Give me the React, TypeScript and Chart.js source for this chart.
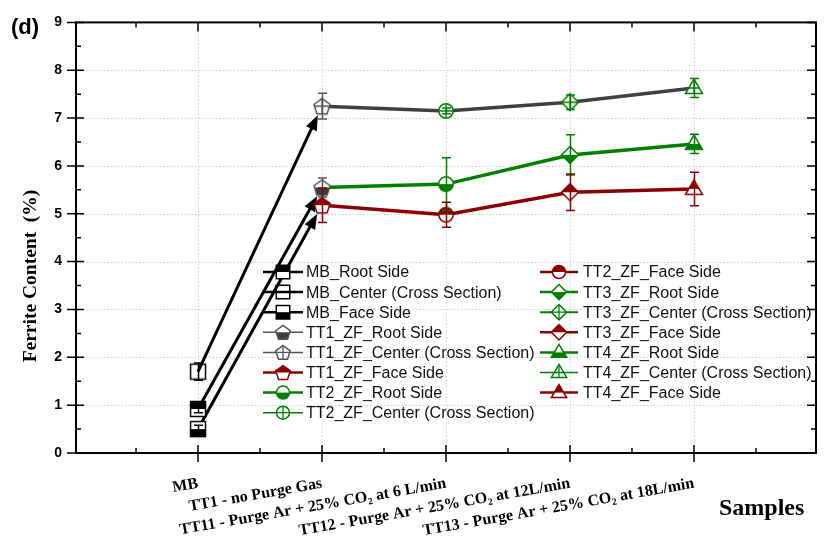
import React, { useEffect, useRef } from 'react';
import { Chart, registerables } from 'chart.js';

Chart.register(...registerables);

// Samples along the x axis, placed at positions 1..5
const sampleLabels = [
  'MB',
  'TT1 - no Purge Gas',
  'TT11 - Purge Ar + 25% CO₂ at 6 L/min',
  'TT12 - Purge Ar + 25% CO₂ at 12L/min',
  'TT13 - Purge Ar + 25% CO₂ at 18L/min',
];
const samplePositions = [1, 2, 3, 4, 5];
const yTickValues = [0, 1, 2, 3, 4, 5, 6, 7, 8, 9];

// Ferrite content (%) per location, in the order Root Side, Center, Face Side
const mbValues = [0.92, 1.7, 0.5];
const mbErrors = [0.08, 0.18, 0.08];
const tt1Values = [5.55, 7.25, 5.18];
const tt1Errors = [0.2, 0.27, 0.36];
const tt2Values = [5.62, 7.15, 4.98];
const tt2Errors = [0.55, 0.06, 0.26];
const tt3Values = [6.23, 7.33, 5.45];
const tt3Errors = [0.42, 0.15, 0.38];
const tt4Values = [6.46, 7.63, 5.52];
const tt4Errors = [0.2, 0.2, 0.35];

const groupPrefixes = ['MB_', 'TT1_ZF_', 'TT2_ZF_', 'TT3_ZF_', 'TT4_ZF_'];
const sideNames = ['Root Side', 'Center (Cross Section)', 'Face Side'];

const groupValues = [mbValues, tt1Values, tt2Values, tt3Values, tt4Values];
const groupErrors = [mbErrors, tt1Errors, tt2Errors, tt3Errors, tt4Errors];

// ---- styling ----
const DARK_RED = '#8b0000';
const GREEN = '#008000';
const GRAY = '#555555';
const SERIF = '"Liberation Serif", "Times New Roman", serif';
const SANS = '"Liberation Sans", Arial, sans-serif';

type Shape = 'square' | 'pentagon' | 'circle' | 'diamond' | 'triangle';
type FillMode = 'top' | 'bottom' | 'cross' | 'none';

const groupShapes: Shape[] = ['square', 'pentagon', 'circle', 'diamond', 'triangle'];
const groupFills: FillMode[][] = [
  ['top', 'none', 'bottom'],
  ['bottom', 'cross', 'top'],
  ['bottom', 'cross', 'top'],
  ['bottom', 'cross', 'top'],
  ['bottom', 'cross', 'top'],
];
const groupStrokes = [
  ['#000', '#000', '#000'],
  [GRAY, GRAY, DARK_RED],
  [GREEN, GREEN, DARK_RED],
  [GREEN, GREEN, DARK_RED],
  [GREEN, GREEN, DARK_RED],
];
const groupFillColors = [
  ['#000', '#000', '#000'],
  ['#3c3c3c', GRAY, DARK_RED],
  [GREEN, GREEN, DARK_RED],
  [GREEN, GREEN, DARK_RED],
  [GREEN, GREEN, DARK_RED],
];
const legendLineWidths = [
  [2.5, 2.5, 2.5],
  [1.5, 1.5, 2.5],
  [2.5, 1.5, 2.5],
  [2.5, 2, 2.5],
  [2.5, 1.5, 2.5],
];
const trendColors = ['#008000', '#404040', DARK_RED];
const MARKER_R = 8.5;

function shapePath(ctx: CanvasRenderingContext2D, shape: Shape, cx: number, cy: number, r: number) {
  ctx.beginPath();
  if (shape === 'circle') {
    ctx.arc(cx, cy, r * 0.85, 0, Math.PI * 2);
  } else if (shape === 'square') {
    const h = r * 0.88;
    ctx.rect(cx - h, cy - h, 2 * h, 2 * h);
  } else if (shape === 'diamond') {
    ctx.moveTo(cx, cy - r);
    ctx.lineTo(cx + r, cy);
    ctx.lineTo(cx, cy + r);
    ctx.lineTo(cx - r, cy);
  } else if (shape === 'triangle') {
    ctx.moveTo(cx, cy - r * 1.05);
    ctx.lineTo(cx + r, cy + r * 0.65);
    ctx.lineTo(cx - r, cy + r * 0.65);
  } else {
    const oy = cy + r * 0.1;
    for (let k = 0; k < 5; k++) {
      const a = (-90 + 72 * k) * (Math.PI / 180);
      const px = cx + r * Math.cos(a);
      const py = oy + r * Math.sin(a);
      if (k === 0) ctx.moveTo(px, py);
      else ctx.lineTo(px, py);
    }
  }
  ctx.closePath();
}

function drawMarker(
  ctx: CanvasRenderingContext2D,
  shape: Shape,
  fill: FillMode,
  stroke: string,
  fillColor: string,
  cx: number,
  cy: number,
  r: number,
) {
  ctx.save();
  ctx.setLineDash([]);
  if (fill !== 'none') {
    shapePath(ctx, shape, cx, cy, r);
    ctx.fillStyle = '#fff';
    ctx.fill();
  }
  if (fill === 'top' || fill === 'bottom') {
    ctx.save();
    shapePath(ctx, shape, cx, cy, r);
    ctx.clip();
    ctx.fillStyle = fillColor;
    if (fill === 'top') ctx.fillRect(cx - r - 2, cy - r - 2, 2 * r + 4, r + 2);
    else ctx.fillRect(cx - r - 2, cy, 2 * r + 4, r + 2);
    ctx.restore();
  }
  if (fill === 'cross') {
    ctx.save();
    shapePath(ctx, shape, cx, cy, r);
    ctx.clip();
    ctx.beginPath();
    ctx.moveTo(cx, cy - r - 2);
    ctx.lineTo(cx, cy + r + 2);
    ctx.moveTo(cx - r - 2, cy);
    ctx.lineTo(cx + r + 2, cy);
    ctx.strokeStyle = stroke;
    ctx.lineWidth = 1.3;
    ctx.stroke();
    ctx.restore();
  }
  shapePath(ctx, shape, cx, cy, r);
  ctx.strokeStyle = stroke;
  ctx.lineWidth = 1.5;
  ctx.stroke();
  ctx.restore();
}

function markerImage(g: number, s: number): HTMLCanvasElement {
  const c = document.createElement('canvas');
  c.width = 24;
  c.height = 24;
  const ctx = c.getContext('2d')!;
  drawMarker(ctx, groupShapes[g], groupFills[g][s], groupStrokes[g][s], groupFillColors[g][s], 12, 12, MARKER_R);
  return c;
}

const decorPlugin = {
  id: 'ferriteDecor',
  beforeDatasetsDraw(chart: any) {
    const { ctx, chartArea: a } = chart;
    const xs = chart.scales.x;
    const ys = chart.scales.y;
    ctx.save();
    // dotted grid
    ctx.strokeStyle = '#cfcfcf';
    ctx.lineWidth = 1;
    ctx.setLineDash([1.5, 2]);
    yTickValues.slice(1, -1).forEach((v) => {
      const y = Math.round(ys.getPixelForValue(v)) + 0.5;
      ctx.beginPath();
      ctx.moveTo(a.left, y);
      ctx.lineTo(a.right, y);
      ctx.stroke();
    });
    samplePositions.forEach((v) => {
      const x = Math.round(xs.getPixelForValue(v)) + 0.5;
      ctx.beginPath();
      ctx.moveTo(x, a.top);
      ctx.lineTo(x, a.bottom);
      ctx.stroke();
    });
    ctx.setLineDash([]);

    // arrows from the base metal to the first treated sample
    ctx.strokeStyle = '#000';
    ctx.fillStyle = '#000';
    ctx.lineWidth = 3;
    for (let s = 0; s < 3; s++) {
      const x0 = xs.getPixelForValue(samplePositions[0]);
      const y0 = ys.getPixelForValue(mbValues[s]);
      const x1 = xs.getPixelForValue(samplePositions[1]);
      const y1 = ys.getPixelForValue(tt1Values[s]);
      const len = Math.hypot(x1 - x0, y1 - y0);
      const ux = (x1 - x0) / len;
      const uy = (y1 - y0) / len;
      const gap = 10;
      const head = 15;
      const half = 6;
      const tx = x1 - ux * gap;
      const ty = y1 - uy * gap;
      ctx.beginPath();
      ctx.moveTo(x0, y0);
      ctx.lineTo(tx - ux * head * 0.7, ty - uy * head * 0.7);
      ctx.stroke();
      const bx = tx - ux * head;
      const by = ty - uy * head;
      ctx.beginPath();
      ctx.moveTo(tx, ty);
      ctx.lineTo(bx - uy * half, by + ux * half);
      ctx.lineTo(bx + uy * half, by - ux * half);
      ctx.closePath();
      ctx.fill();
    }
    ctx.restore();
  },
  afterDatasetsDraw(chart: any) {
    const { ctx, chartArea: a } = chart;
    const xs = chart.scales.x;
    const ys = chart.scales.y;
    ctx.save();

    // error bars
    ctx.lineWidth = 1.5;
    for (let g = 0; g < 5; g++) {
      for (let s = 0; s < 3; s++) {
        const v = groupValues[g][s];
        const e = groupErrors[g][s];
        const x = Math.round(xs.getPixelForValue(samplePositions[g])) + 0.5;
        const yt = ys.getPixelForValue(v + e);
        const yb = ys.getPixelForValue(v - e);
        ctx.strokeStyle = groupStrokes[g][s];
        ctx.beginPath();
        ctx.moveTo(x, yt);
        ctx.lineTo(x, yb);
        ctx.moveTo(x - 4.5, yt);
        ctx.lineTo(x + 4.5, yt);
        ctx.moveTo(x - 4.5, yb);
        ctx.lineTo(x + 4.5, yb);
        ctx.stroke();
      }
    }

    // frame and tick marks
    ctx.strokeStyle = '#000';
    ctx.lineWidth = 2;
    ctx.strokeRect(a.left, a.top, a.right - a.left, a.bottom - a.top);
    ctx.lineWidth = 1.5;
    ctx.beginPath();
    yTickValues.forEach((v) => {
      const y = ys.getPixelForValue(v);
      ctx.moveTo(a.left - 9, y);
      ctx.lineTo(a.left + 8, y);
      ctx.moveTo(a.right, y);
      ctx.lineTo(a.right - 9, y);
      if (v < 9) {
        const ym = ys.getPixelForValue(v + 0.5);
        ctx.moveTo(a.left, ym);
        ctx.lineTo(a.left + 5, ym);
        ctx.moveTo(a.right, ym);
        ctx.lineTo(a.right - 5, ym);
      }
    });
    const xMinor = [0.5, ...samplePositions.map((p) => p + 0.5)];
    samplePositions.forEach((v) => {
      const x = xs.getPixelForValue(v);
      ctx.moveTo(x, a.bottom + 9);
      ctx.lineTo(x, a.bottom - 8);
      ctx.moveTo(x, a.top);
      ctx.lineTo(x, a.top + 9);
    });
    xMinor.forEach((v) => {
      const x = xs.getPixelForValue(v);
      ctx.moveTo(x, a.bottom);
      ctx.lineTo(x, a.bottom - 5);
      ctx.moveTo(x, a.top);
      ctx.lineTo(x, a.top + 5);
    });
    ctx.stroke();

    // legend, two columns
    const entries: { g: number; s: number }[] = [];
    for (let g = 0; g < 5; g++) for (let s = 0; s < 3; s++) entries.push({ g, s });
    const cols = [
      { x0: 263, x1: 303, tx: 306, items: entries.slice(0, 8) },
      { x0: 540, x1: 578, tx: 583, items: entries.slice(8) },
    ];
    ctx.font = `16px ${SANS}`;
    ctx.textBaseline = 'middle';
    ctx.textAlign = 'left';
    cols.forEach((col) => {
      col.items.forEach((it, i) => {
        const y = 272 + i * 20.1;
        ctx.strokeStyle = groupStrokes[it.g][it.s];
        ctx.lineWidth = legendLineWidths[it.g][it.s];
        ctx.beginPath();
        ctx.moveTo(col.x0, y);
        ctx.lineTo(col.x1, y);
        ctx.stroke();
        drawMarker(
          ctx,
          groupShapes[it.g],
          groupFills[it.g][it.s],
          groupStrokes[it.g][it.s],
          groupFillColors[it.g][it.s],
          (col.x0 + col.x1) / 2,
          y,
          MARKER_R * 0.9,
        );
        ctx.fillStyle = '#111';
        ctx.fillText(groupPrefixes[it.g] + sideNames[it.s], col.tx, y + 1);
      });
    });

    // titles
    ctx.fillStyle = '#000';
    ctx.font = `bold 22px ${SANS}`;
    ctx.textBaseline = 'alphabetic';
    ctx.fillText('(d)', 11, 34);
    ctx.font = `bold 24px ${SERIF}`;
    ctx.fillText('Samples', 719, 515);
    ctx.save();
    ctx.translate(31, 276);
    ctx.rotate(-Math.PI / 2);
    ctx.font = `bold 19.5px ${SERIF}`;
    ctx.textAlign = 'center';
    ctx.textBaseline = 'middle';
    ctx.fillText('Ferrite Content  (%)', 0, 0);
    ctx.restore();

    ctx.restore();
  },
};

export default function App() {
  const canvasRef = useRef<HTMLCanvasElement | null>(null);

  useEffect(() => {
    const canvas = canvasRef.current;
    if (!canvas) return;

    const datasets: any[] = [];
    // trend lines across the treated samples
    for (let s = 0; s < 3; s++) {
      datasets.push({
        label: 'trend ' + sideNames[s],
        data: groupValues.slice(1).map((vals, k) => ({ x: samplePositions[k + 1], y: vals[s] })),
        borderColor: trendColors[s],
        borderWidth: 3.5,
        pointRadius: 0,
        fill: false,
        tension: 0,
        order: 10,
      });
    }
    // one marker per sample/location
    for (let g = 0; g < 5; g++) {
      for (let s = 0; s < 3; s++) {
        datasets.push({
          label: groupPrefixes[g] + sideNames[s],
          data: [{ x: samplePositions[g], y: groupValues[g][s] }],
          showLine: false,
          pointStyle: markerImage(g, s),
          pointRadius: 9,
          borderColor: groupStrokes[g][s],
          backgroundColor: groupFillColors[g][s],
          order: 0,
        });
      }
    }

    const chart = new Chart(canvas, {
      type: 'line',
      data: { datasets },
      options: {
        animation: false,
        responsive: false,
        events: [],
        layout: { padding: { top: 15, right: 11, left: 0, bottom: 0 } },
        plugins: { legend: { display: false }, tooltip: { enabled: false } },
        scales: {
          x: {
            type: 'linear',
            min: 0.016,
            max: 5.984,
            afterBuildTicks: (scale: any) => {
              scale.ticks = samplePositions.map((v) => ({ value: v }));
            },
            afterFit: (scale: any) => {
              scale.height = 94;
            },
            grid: { display: false, drawTicks: false },
            border: { display: false },
            ticks: {
              autoSkip: false,
              minRotation: 10,
              maxRotation: 10,
              padding: 21,
              color: '#000',
              font: { family: SERIF, size: 16, weight: 'bold' },
              callback: (v: any) => {
                const i = samplePositions.indexOf(Number(v));
                return i >= 0 ? sampleLabels[i] : '';
              },
            },
          },
          y: {
            type: 'linear',
            min: 0,
            max: 9,
            afterBuildTicks: (scale: any) => {
              scale.ticks = yTickValues.map((v) => ({ value: v }));
            },
            afterFit: (scale: any) => {
              scale.width = 76;
            },
            grid: { display: false, drawTicks: false },
            border: { display: false },
            ticks: {
              padding: 14,
              color: '#000',
              font: { family: SANS, size: 14, weight: 'bold' },
            },
          },
        },
      } as any,
      plugins: [decorPlugin],
    });

    return () => chart.destroy();
  }, []);

  return (
    <div style={{ position: 'absolute', left: 0, top: 0, width: 827, height: 547, background: '#fff' }}>
      <canvas ref={canvasRef} width={827} height={547} />
    </div>
  );
}
